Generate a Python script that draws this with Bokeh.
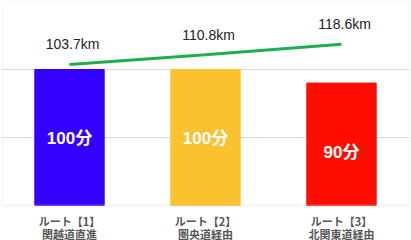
from bokeh.plotting import figure
from bokeh.models import ColumnDataSource, FixedTicker, Range1d, BoxAnnotation
from bokeh.core.properties import value
from bokeh.embed import file_html
from bokeh.resources import INLINE

route_names = ["ルート【1】", "ルート【2】", "ルート【3】"]
route_via = ["関越道直進", "圏央道経由", "北関東道経由"]
minutes = [100, 100, 90]
minute_labels = ["100分", "100分", "90分"]
distance_km = [103.7, 110.8, 118.6]
distance_labels = ["103.7km", "110.8km", "118.6km"]
colors = ["#3300ff", "#fbc22f", "#ff0d00"]

Y_MAX = 150
xs = list(range(len(route_names)))
src = ColumnDataSource(dict(x=xs, m=minutes, ml=minute_labels, d=distance_km,
                            dl=distance_labels, c=colors, base=[0] * len(xs),
                            rn=route_names, rv=route_via))

# plot box 204 px tall for 0..150; 35 px below it for the category labels
px_per_unit = 204 / Y_MAX
p = figure(width=411, height=240, output_backend="svg", toolbar_location=None,
           x_range=Range1d(-0.5, 2.5), y_range=Range1d(-35 / px_per_unit, Y_MAX),
           min_border_left=1, min_border_right=2, min_border_top=1, min_border_bottom=0)
p.background_fill_color = "white"
p.border_fill_color = "white"
p.outline_line_color = None
p.axis.visible = False
p.xgrid.visible = False
p.ygrid.ticker = FixedTicker(ticks=[50, 100])
p.ygrid.grid_line_color = "#d9d9d9"
p.ygrid.grid_line_width = 1

p.add_layout(BoxAnnotation(left=-0.5, right=2.5, bottom=0, top=Y_MAX,
                           fill_alpha=0, line_color="#d6d6d6", line_width=2))

p.vbar(x="x", top="m", width=0.51, color="c", source=src)
p.line(x="x", y="d", line_color="#1aaf50", line_width=3, source=src)

p.text(x="x", y="d", text="dl", source=src, x_offset=3, y_offset=-20,
       text_align="center", text_baseline="middle", text_color="#222222",
       text_font=value("Liberation Sans"), text_font_size="14px")
p.text(x="x", y="m", text="ml", source=src, y_offset=69,
       text_align="center", text_baseline="middle", text_color="white",
       text_font=value("Liberation Sans, 'Noto Sans CJK JP'"), text_font_size="17px",
       text_font_style="bold")

for col, off in (("rn", 15), ("rv", 28)):
    p.text(x="x", y="base", text=col, source=src, y_offset=off,
           text_align="center", text_baseline="middle",
           text_font=value("Noto Sans CJK JP"), text_font_size="11px",
           text_font_style="bold", text_color="#555555")

open("out.html", "w").write(file_html(p, INLINE))
